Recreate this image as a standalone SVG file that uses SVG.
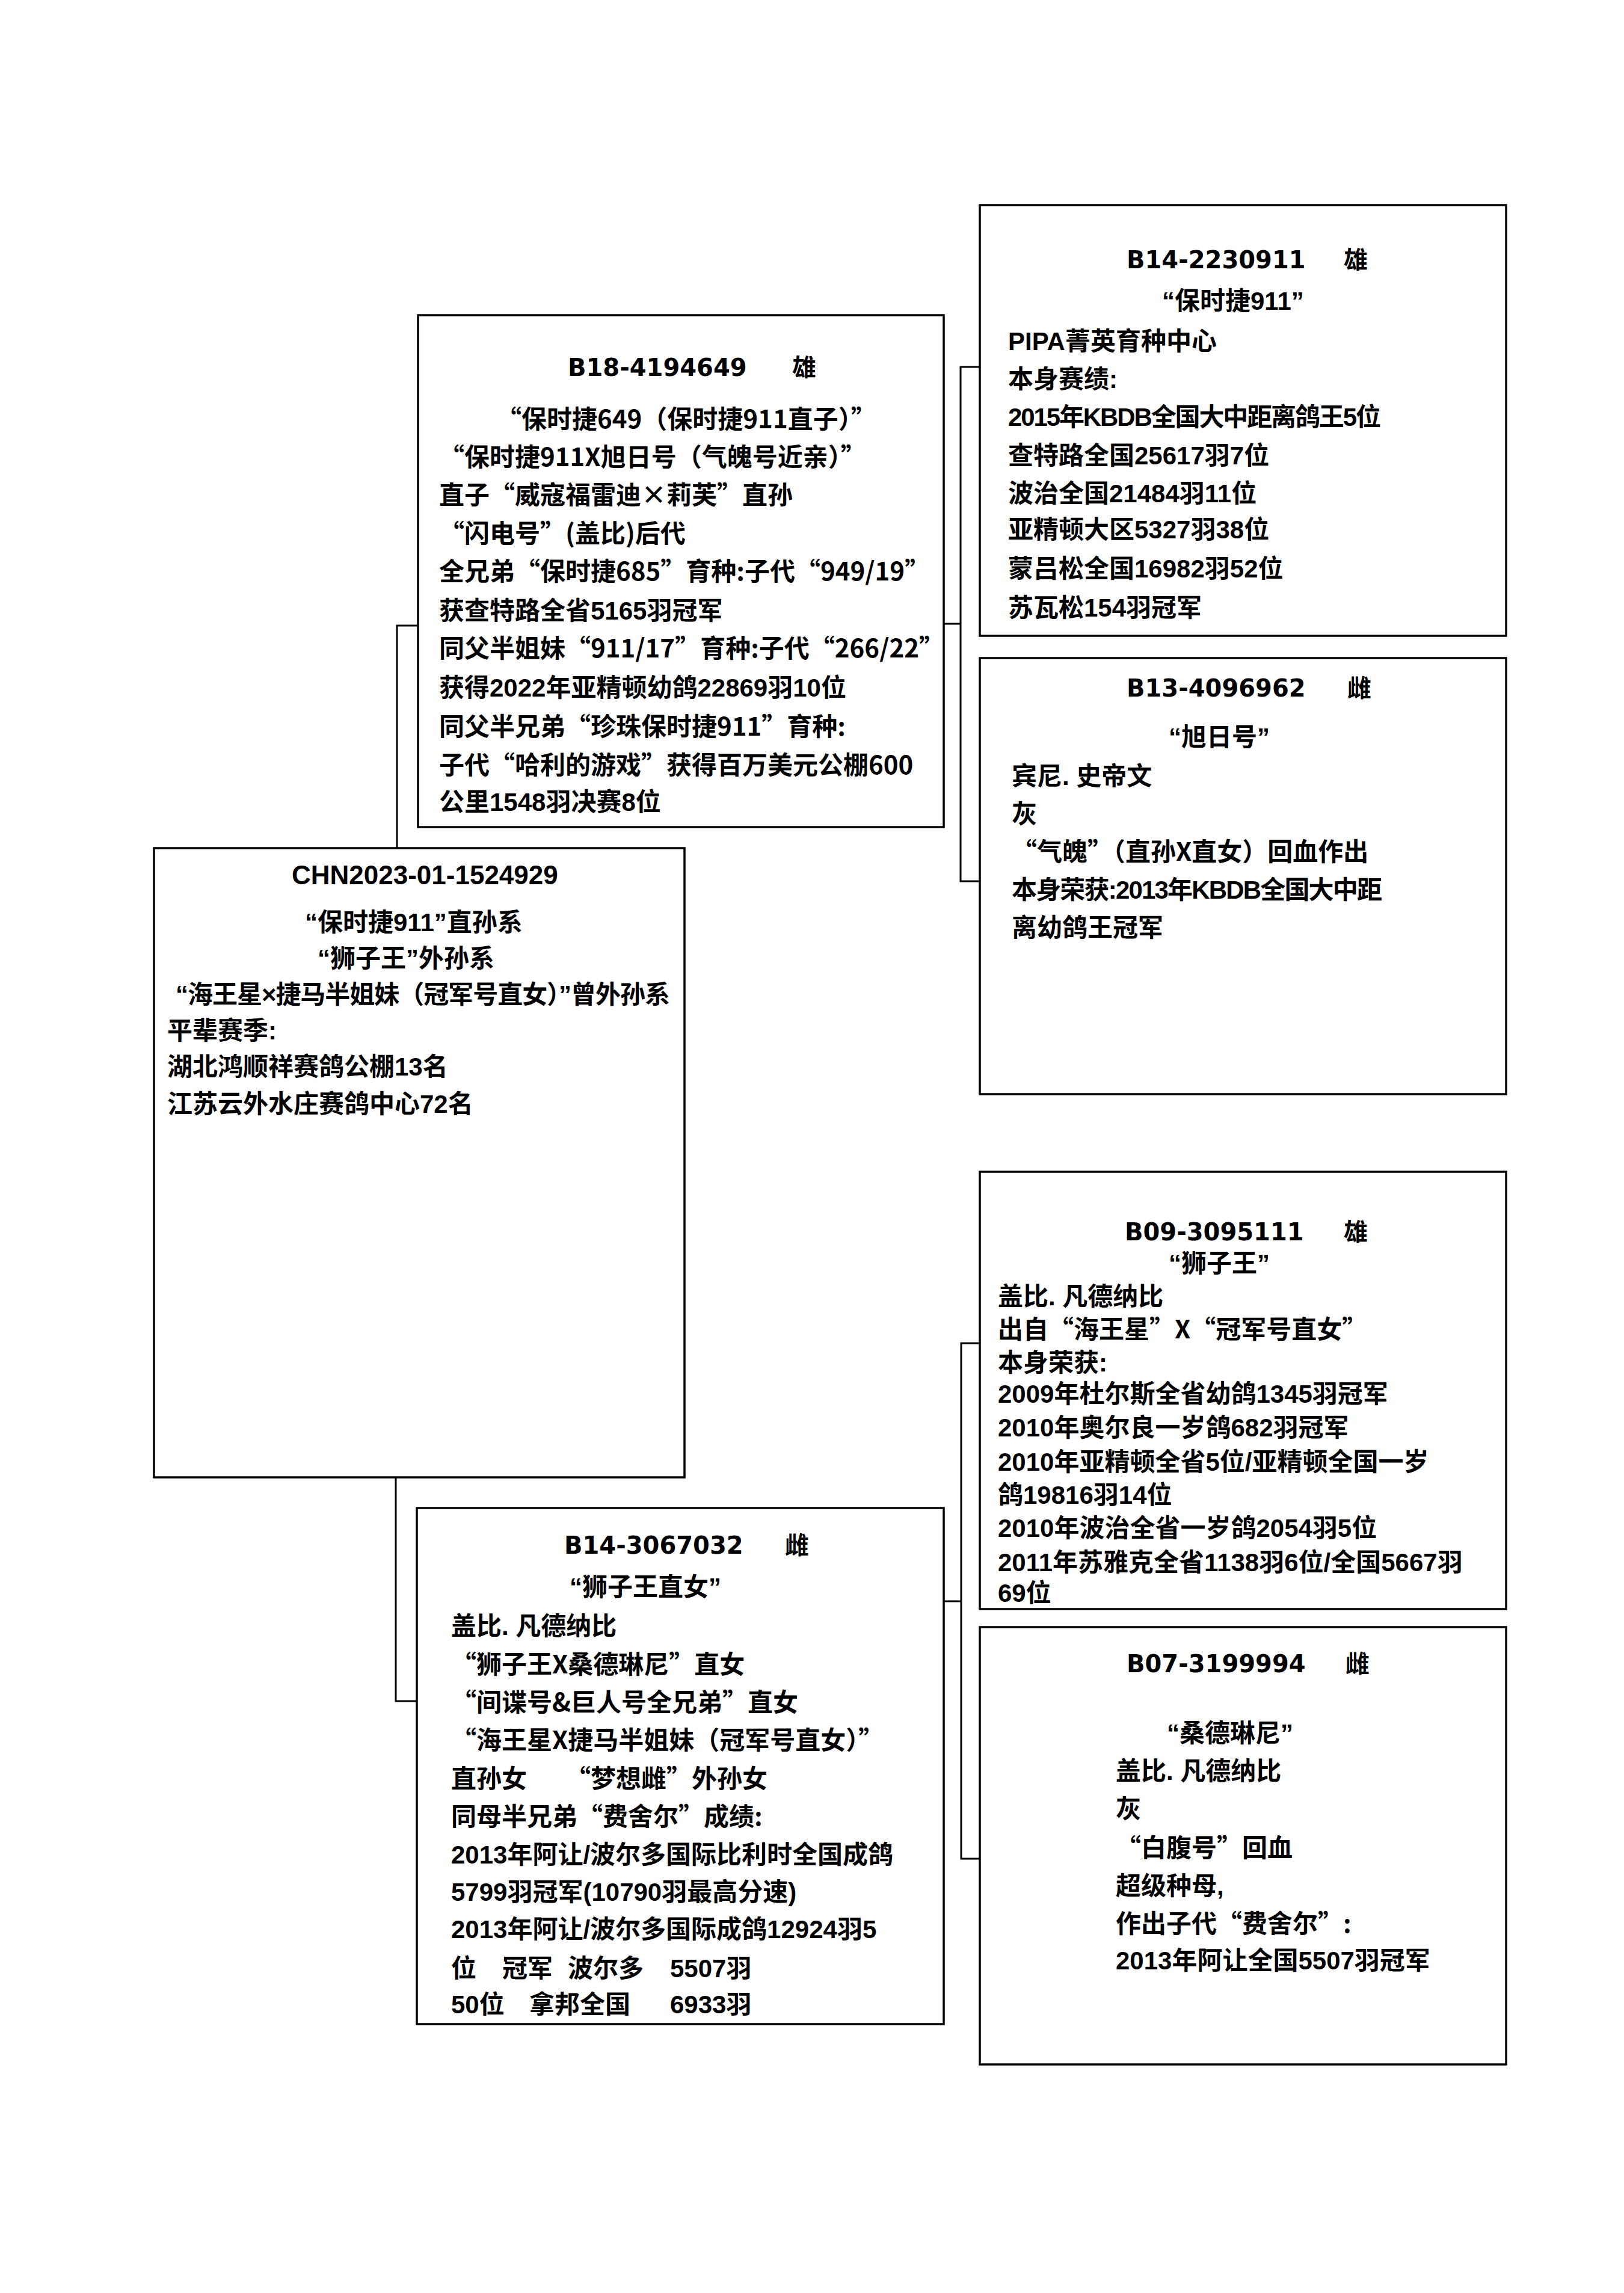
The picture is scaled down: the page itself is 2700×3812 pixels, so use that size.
<svg xmlns="http://www.w3.org/2000/svg" width="2700" height="3812" viewBox="0 0 2700 3812">
<style>
.box{fill:#fff;stroke:#000;stroke-width:3.5}
.con{fill:none;stroke:#000;stroke-width:3}
.t{font-family:'DejaVu Sans','Noto Sans CJK SC',sans-serif;font-weight:700;font-size:40px;fill:#000}
.tc{font-family:'Liberation Sans','Noto Sans CJK SC',sans-serif;font-weight:700;font-size:44px;fill:#000}
.b{font-family:'Liberation Sans','Noto Sans CJK SC',sans-serif;font-weight:700;font-size:42px;fill:#000}
.w{font-family:'Noto Sans CJK SC','Liberation Sans',sans-serif;font-weight:700;font-size:42px;fill:#000}
</style>
<rect x="0" y="0" width="2700" height="3812" fill="#fff"/>
<g id="connectors">
<path class="con" d="M660,1410 V1040 H695"/>
<path class="con" d="M658,2456 V2828 H693"/>
<path class="con" d="M1569,1037 H1597 M1629,610 H1597 V1465 H1629"/>
<path class="con" d="M1569,2662 H1598 M1629,2233 H1598 V3090 H1629"/>
</g>
<g id="main">
<rect class="box" x="256" y="1410" width="882" height="1046"/>
<text class="tc" x="485" y="1470">CHN2023-01-1524929</text>
<text class="b" x="507" y="1548">“保时捷911”直孙系</text>
<text class="b" x="528" y="1608">“狮子王”外孙系</text>
<text class="b" x="292" y="1668" textLength="822">“海王星×捷马半姐妹（冠军号直女）”曾外孙系</text>
<text class="b" x="278" y="1728">平辈赛季:</text>
<text class="b" x="278" y="1788">湖北鸿顺祥赛鸽公棚13名</text>
<text class="b" x="278" y="1850">江苏云外水庄赛鸽中心72名</text>
</g>
<g id="sire">
<rect class="box" x="695" y="524" width="874" height="851"/>
<text class="t" x="944" y="625">B18-4194649</text>
<text class="t" x="1317" y="625">雄</text>
<text class="w" x="825" y="712">“保时捷649（保时捷911直子）”</text>
<text class="w" x="730" y="775">“保时捷911X旭日号（气魄号近亲）”</text>
<text class="w" x="730" y="838">直子“威寇福雷迪×莉芙”直孙</text>
<text class="w" x="730" y="902">“闪电号”(盖比)后代</text>
<text class="w" x="730" y="965">全兄弟“保时捷685”育种:子代“949/19”</text>
<text class="b" x="730" y="1030">获查特路全省5165羽冠军</text>
<text class="w" x="730" y="1093">同父半姐妹“911/17”育种:子代“266/22”</text>
<text class="b" x="730" y="1158">获得2022年亚精顿幼鸽22869羽10位</text>
<text class="w" x="730" y="1223">同父半兄弟“珍珠保时捷911”育种:</text>
<text class="w" x="730" y="1287">子代“哈利的游戏”获得百万美元公棚600</text>
<text class="b" x="730" y="1348">公里1548羽决赛8位</text>
</g>
<g id="sire-sire">
<rect class="box" x="1629" y="341" width="875" height="716"/>
<text class="t" x="1873" y="446">B14-2230911</text>
<text class="t" x="2234" y="446">雄</text>
<text class="b" x="1932" y="515">“保时捷911”</text>
<text class="b" x="1676" y="582">PIPA菁英育种中心</text>
<text class="b" x="1676" y="645">本身赛绩:</text>
<text class="b" x="1676" y="708" textLength="620">2015年KBDB全国大中距离鸽王5位</text>
<text class="b" x="1676" y="772">查特路全国25617羽7位</text>
<text class="b" x="1676" y="835">波治全国21484羽11位</text>
<text class="b" x="1676" y="895">亚精顿大区5327羽38位</text>
<text class="b" x="1676" y="960">蒙吕松全国16982羽52位</text>
<text class="b" x="1676" y="1025">苏瓦松154羽冠军</text>
</g>
<g id="sire-dam">
<rect class="box" x="1629" y="1094" width="875" height="725"/>
<text class="t" x="1873" y="1158">B13-4096962</text>
<text class="t" x="2240" y="1158">雌</text>
<text class="b" x="1943" y="1240">“旭日号”</text>
<text class="b" x="1682" y="1305">宾尼. 史帝文</text>
<text class="b" x="1682" y="1368">灰</text>
<text class="w" x="1682" y="1431">“气魄”（直孙X直女）回血作出</text>
<text class="b" x="1682" y="1494" textLength="616">本身荣获:2013年KBDB全国大中距</text>
<text class="b" x="1682" y="1557">离幼鸽王冠军</text>
</g>
<g id="dam">
<rect class="box" x="693" y="2507" width="876" height="858"/>
<text class="t" x="938" y="2583">B14-3067032</text>
<text class="t" x="1305" y="2583">雌</text>
<text class="b" x="947" y="2653">“狮子王直女”</text>
<text class="b" x="750" y="2718">盖比. 凡德纳比</text>
<text class="w" x="750" y="2782">“狮子王X桑德琳尼”直女</text>
<text class="w" x="750" y="2845">“间谍号&amp;巨人号全兄弟”直女</text>
<text class="w" x="750" y="2908">“海王星X捷马半姐妹（冠军号直女）”</text>
<text class="b" x="750" y="2972">直孙女</text>
<text class="w" x="940" y="2972">“梦想雌”外孙女</text>
<text class="w" x="750" y="3035">同母半兄弟“费舍尔”成绩:</text>
<text class="b" x="750" y="3098">2013年阿让/波尔多国际比利时全国成鸽</text>
<text class="b" x="750" y="3160">5799羽冠军(10790羽最高分速)</text>
<text class="b" x="750" y="3222">2013年阿让/波尔多国际成鸽12924羽5</text>
<text class="b" x="750" y="3287">位</text>
<text class="b" x="835" y="3287">冠军</text>
<text class="b" x="944" y="3287">波尔多</text>
<text class="b" x="1114" y="3287">5507羽</text>
<text class="b" x="750" y="3347">50位</text>
<text class="b" x="880" y="3347">拿邦全国</text>
<text class="b" x="1114" y="3347">6933羽</text>
</g>
<g id="dam-sire">
<rect class="box" x="1629" y="1948" width="875" height="727"/>
<text class="t" x="1870" y="2062">B09-3095111</text>
<text class="t" x="2234" y="2062">雄</text>
<text class="b" x="1943" y="2115">“狮子王”</text>
<text class="b" x="1659" y="2170">盖比. 凡德纳比</text>
<text class="w" x="1659" y="2225">出自“海王星”X“冠军号直女”</text>
<text class="b" x="1659" y="2280">本身荣获:</text>
<text class="b" x="1659" y="2332">2009年杜尔斯全省幼鸽1345羽冠军</text>
<text class="b" x="1659" y="2388">2010年奥尔良一岁鸽682羽冠军</text>
<text class="b" x="1659" y="2445">2010年亚精顿全省5位/亚精顿全国一岁</text>
<text class="b" x="1659" y="2500">鸽19816羽14位</text>
<text class="b" x="1659" y="2555">2010年波治全省一岁鸽2054羽5位</text>
<text class="b" x="1659" y="2612">2011年苏雅克全省1138羽6位/全国5667羽</text>
<text class="b" x="1659" y="2663">69位</text>
</g>
<g id="dam-dam">
<rect class="box" x="1629" y="2705" width="875" height="727"/>
<text class="t" x="1873" y="2780">B07-3199994</text>
<text class="t" x="2237" y="2780">雌</text>
<text class="b" x="1940" y="2896">“桑德琳尼”</text>
<text class="b" x="1855" y="2959">盖比. 凡德纳比</text>
<text class="b" x="1855" y="3022">灰</text>
<text class="w" x="1855" y="3087">“白腹号”回血</text>
<text class="b" x="1855" y="3150">超级种母,</text>
<text class="w" x="1855" y="3213">作出子代“费舍尔”:</text>
<text class="b" x="1855" y="3274">2013年阿让全国5507羽冠军</text>
</g>
</svg>
